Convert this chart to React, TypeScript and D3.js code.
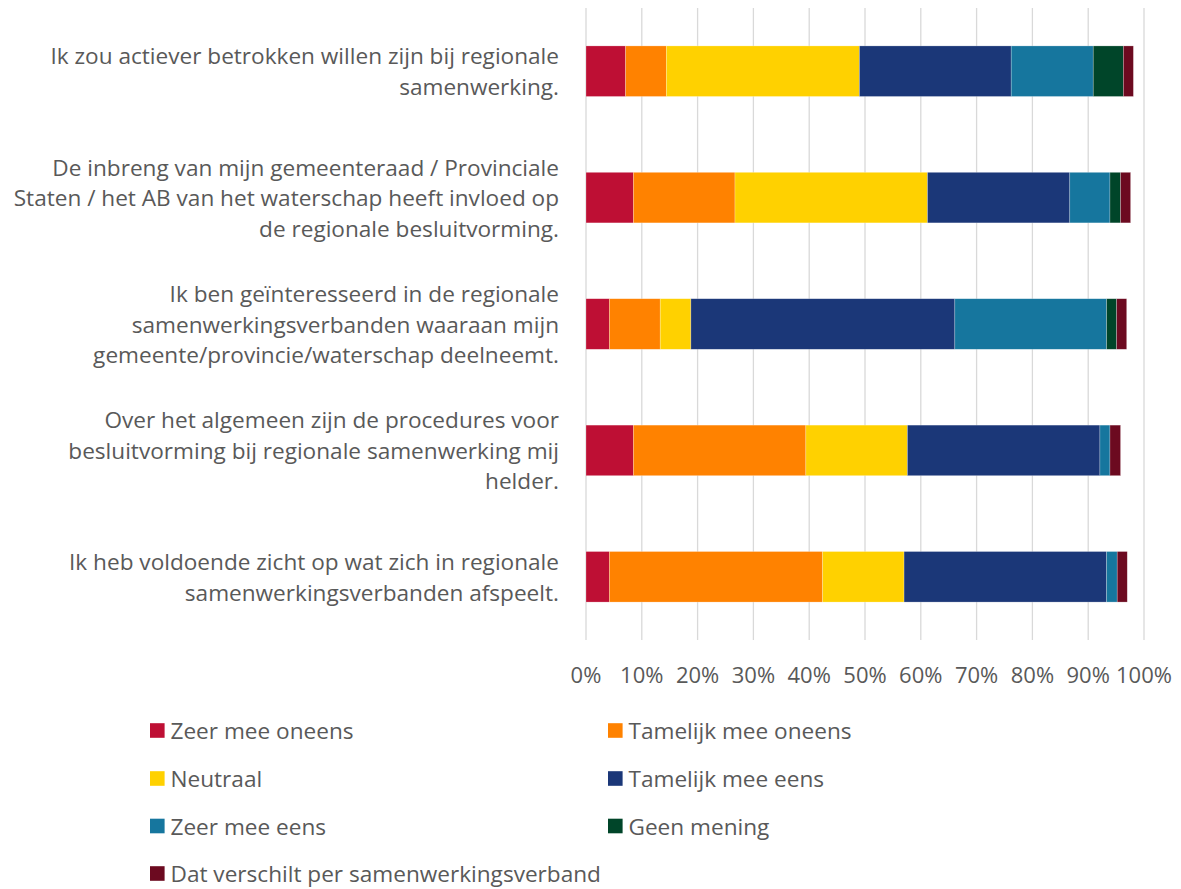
import * as d3 from "d3";
import { useEffect, useRef } from "react";

// Statements (each is an array of lines as shown in the chart)
const statements: string[][] = [
  ["Ik zou actiever betrokken willen zijn bij regionale", "samenwerking."],
  [
    "De inbreng van mijn gemeenteraad / Provinciale",
    "Staten / het AB van het waterschap heeft invloed op",
    "de regionale besluitvorming.",
  ],
  [
    "Ik ben geïnteresseerd in de regionale",
    "samenwerkingsverbanden waaraan mijn",
    "gemeente/provincie/waterschap deelneemt.",
  ],
  [
    "Over het algemeen zijn de procedures voor",
    "besluitvorming bij regionale samenwerking mij",
    "helder.",
  ],
  ["Ik heb voldoende zicht op wat zich in regionale", "samenwerkingsverbanden afspeelt."],
];

const seriesNames = [
  "Zeer mee oneens",
  "Tamelijk mee oneens",
  "Neutraal",
  "Tamelijk mee eens",
  "Zeer mee eens",
  "Geen mening",
  "Dat verschilt per samenwerkingsverband",
];

const seriesColors = ["#BE0F34", "#FF8200", "#FFD100", "#1B3778", "#16769E", "#004529", "#6C0A20"];

// Percentages per series, one value per statement (top to bottom)
const zeerOneens = [7.1, 8.5, 4.2, 8.5, 4.2];
const tamelijkOneens = [7.3, 18.2, 9.1, 30.9, 38.2];
const neutraal = [34.6, 34.5, 5.5, 18.2, 14.6];
const tamelijkEens = [27.2, 25.5, 47.3, 34.5, 36.3];
const zeerEens = [14.7, 7.2, 27.2, 1.8, 1.9];
const geenMening = [5.4, 1.9, 1.8, 0, 0];
const verschilt = [1.8, 1.8, 1.8, 1.9, 1.8];

const tickValues = [0, 10, 20, 30, 40, 50, 60, 70, 80, 90, 100];

const FONT = "'Open Sans', 'Noto Sans', sans-serif";
const TEXT = "#595959";
const LABEL_SIZE = 22.6;

const App = () => {
  const svgRef = useRef<SVGSVGElement>(null);

  useEffect(() => {
    if (!svgRef.current) return;
    const svg = d3.select(svgRef.current);
    svg.selectAll("*").remove();

    const seriesValues = [zeerOneens, tamelijkOneens, neutraal, tamelijkEens, zeerEens, geenMening, verschilt];
    const idx = statements.map((_, i) => i);

    const x = d3.scaleLinear().domain([0, 100]).range([586, 1144]);
    const y = d3.scaleBand<number>().domain(idx).range([8, 640]).paddingInner(0.6).paddingOuter(0.3);

    // Gridlines
    svg.append("g")
      .selectAll("line")
      .data(tickValues)
      .join("line")
      .attr("x1", d => x(d))
      .attr("x2", d => x(d))
      .attr("y1", 8)
      .attr("y2", 640)
      .attr("stroke", "#D9D9D9")
      .attr("stroke-width", 1.3);

    // Tick labels
    svg.append("g")
      .selectAll("text")
      .data(tickValues)
      .join("text")
      .attr("x", d => x(d))
      .attr("y", 683)
      .attr("text-anchor", "middle")
      .attr("font-family", FONT)
      .attr("font-size", 22)
      .attr("fill", TEXT)
      .text(d => `${d}%`);

    // Stacked bars
    const rows = idx.map(i => {
      const row: Record<string, number> = { i };
      seriesNames.forEach((s, k) => (row[s] = seriesValues[k][i]));
      return row;
    });
    const stacked = d3.stack<Record<string, number>>().keys(seriesNames)(rows);

    stacked.forEach((layer, k) => {
      svg.append("g")
        .selectAll("rect")
        .data(layer)
        .join("rect")
        .attr("x", d => x(d[0]))
        .attr("y", (d, i) => y(i)!)
        .attr("width", d => Math.max(0, x(d[1]) - x(d[0])))
        .attr("height", y.bandwidth())
        .attr("fill", seriesColors[k])
        .attr("stroke", "#ffffff")
        .attr("stroke-opacity", 0.4)
        .attr("stroke-width", 0.6);
    });

    // Category labels
    const lineH = 30.5;
    statements.forEach((lines, i) => {
      const cy = y(i)! + y.bandwidth() / 2;
      const t = svg.append("text")
        .attr("text-anchor", "end")
        .attr("font-family", FONT)
        .attr("font-size", LABEL_SIZE)
        .attr("fill", TEXT);
      lines.forEach((line, j) => {
        t.append("tspan")
          .attr("x", 559)
          .attr("y", cy + (j - (lines.length - 1) / 2) * lineH)
          .attr("dominant-baseline", "central")
          .text(line);
      });
    });

    // Legend
    const legendCols = [150, 608];
    const legendRows = [730.5, 778.5, 826, 873.5];
    const legend = svg.append("g");
    seriesNames.forEach((name, k) => {
      const lx = legendCols[k % 2];
      const ly = legendRows[Math.floor(k / 2)];
      legend.append("rect")
        .attr("x", lx)
        .attr("y", ly - 7.3)
        .attr("width", 14.6)
        .attr("height", 14.6)
        .attr("fill", seriesColors[k]);
      legend.append("text")
        .attr("x", lx + 20.5)
        .attr("y", ly)
        .attr("dominant-baseline", "central")
        .attr("font-family", FONT)
        .attr("font-size", LABEL_SIZE)
        .attr("fill", TEXT)
        .text(name);
    });
  }, []);

  return (
    <svg
      ref={svgRef}
      width={1181}
      height={889}
      style={{ position: "absolute", left: 0, top: 0, background: "#fff" }}
    />
  );
};

export default App;
